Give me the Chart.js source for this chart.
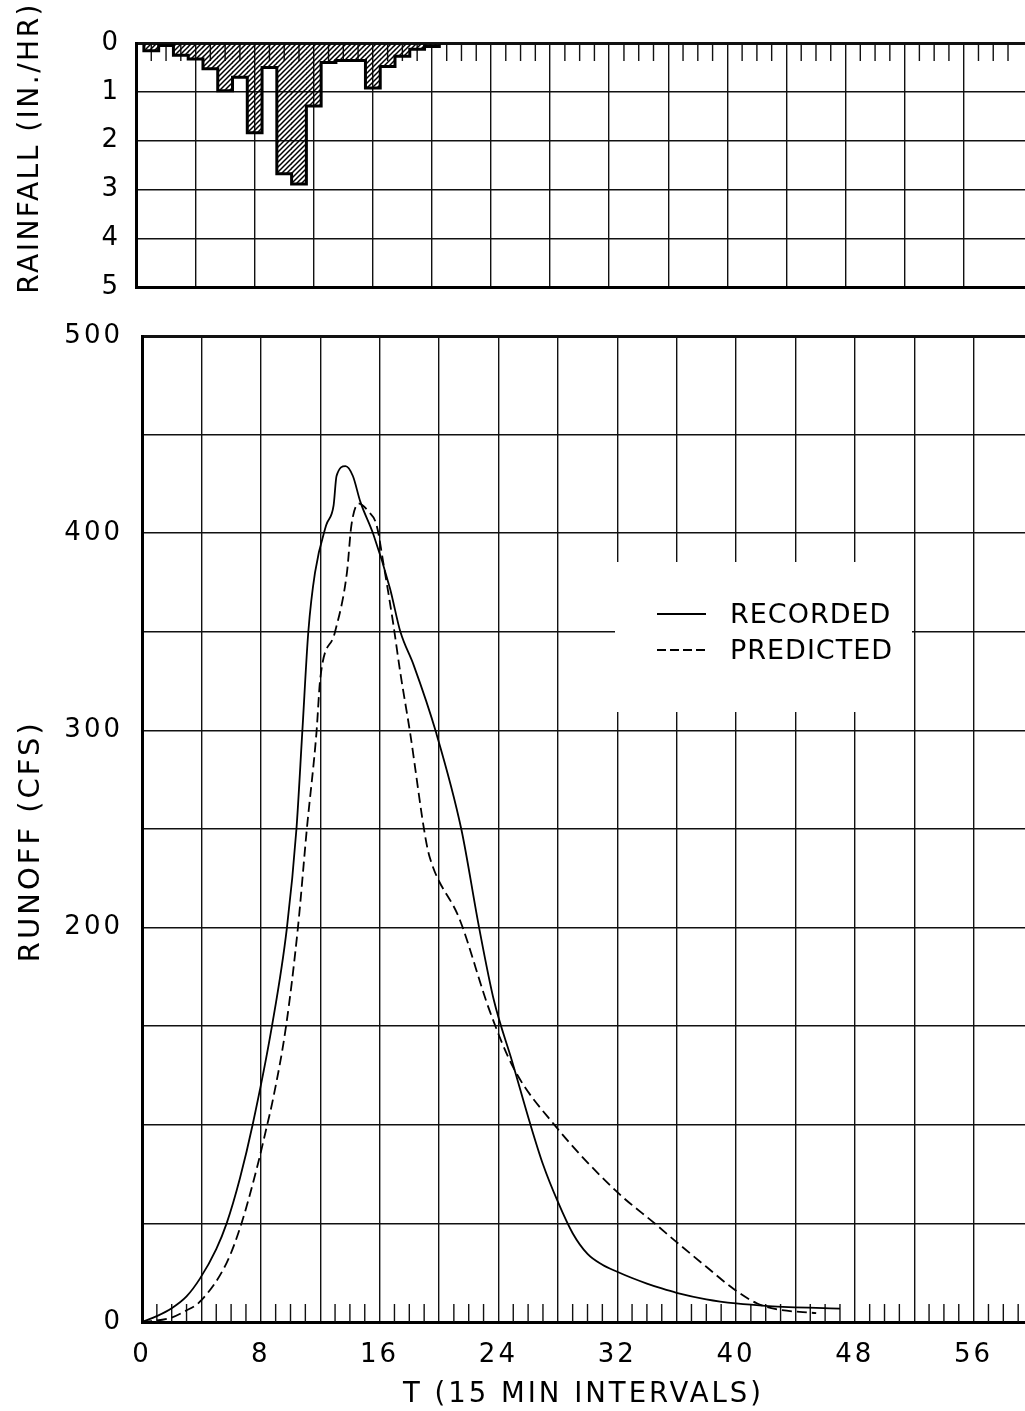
<!DOCTYPE html>
<html>
<head>
<meta charset="utf-8">
<script src="https://cdn.jsdelivr.net/npm/chart.js@4.4.1/dist/chart.umd.min.js"></script>
<style>
  html, body { margin: 0; padding: 0; background: #fff; overflow: hidden; }
  #wrap { position: relative; width: 1025px; height: 1411px; background: #fff; }
  .box { position: absolute; left: 0; width: 1025px; }
</style>
</head>
<body>
<div id="wrap">
  <div class="box" style="top:0;height:320px"><canvas id="rain"></canvas></div>
  <div class="box" style="top:300px;height:1111px"><canvas id="runoff"></canvas></div>
</div>
<script>
// ---------------- data ----------------
const rainT = [1, 2, 3, 4, 5, 6, 7, 8, 9, 10, 11, 12, 13, 14, 15, 16, 17, 18, 19, 20];
const rainRate = [0.16, 0.05, 0.25, 0.33, 0.53, 0.98, 0.70, 1.84, 0.50, 2.68, 2.89, 1.29, 0.40, 0.36, 0.36, 0.92, 0.48, 0.27, 0.13, 0.07];

const recordedT = [0, 1, 2, 3, 3.9, 5, 5.7, 6.6, 7.45, 8.75, 9.76, 10.4, 10.8, 11.2, 11.65, 12.4, 12.9, 13.1, 13.7, 14.2, 14.7, 15.6, 16.7, 17.4, 18.3, 19.8, 21.5, 22.7, 23.7, 24.93, 26.16, 27, 28, 29, 30, 31, 32, 33, 34, 35, 36, 38, 40, 42.2, 47];
const recordedQ = [0, 3, 7, 13, 22, 37, 50, 73, 100, 150, 200, 250, 300, 350, 380, 404, 414, 429, 434, 429, 416, 399, 372, 350, 333, 299, 250, 200, 163, 132, 100, 80, 61, 45, 34.5, 29, 25.5, 22.3, 19.5, 17, 14.8, 11.5, 9.4, 8.1, 6.8];

const predictedT = [0, 1.9, 2.9, 3.9, 5.7, 6.7, 7.8, 8.4, 8.85, 9.7, 10.5, 11.1, 11.75, 12, 13, 13.8, 14.1, 14.6, 15.25, 15.8, 16.25, 16.9, 17.4, 18.05, 19.1, 19.4, 21.4, 23.4, 25.04, 27.8, 31.9, 34.6, 36, 38, 39.8, 41.4, 42.7, 45.4];
const predictedQ = [0, 2, 5.5, 10.3, 30, 50, 80, 99, 114, 150, 200, 250, 299, 326, 350, 380, 404, 415, 411, 404, 385, 355, 329, 299, 245, 235, 204, 158, 128.5, 99.7, 66.6, 49.5, 40.5, 28, 17, 9.5, 6.5, 4.5];

const timeGridTicks = [0, 4, 8, 12, 16, 20, 24, 28, 32, 36, 40, 44, 48, 52, 56];
const timeLabels = [0, 8, 16, 24, 32, 40, 48, 56];
const rainTicks = [0, 1, 2, 3, 4, 5];
const runoffGridTicks = [0, 50, 100, 150, 200, 250, 300, 350, 400, 450, 500];
const runoffLabels = [0, 200, 300, 400, 500];

// ---------------- styling ----------------
const FONT = "'DejaVu Sans', 'Liberation Sans', sans-serif";
const INK = '#111';
Chart.defaults.font.family = FONT;
Chart.defaults.color = '#000';

function spacing(px) {
  return {
    id: 'spacing',
    beforeLayout(chart) { chart.ctx.letterSpacing = px; },
    beforeDraw(chart) { chart.ctx.letterSpacing = px; }
  };
}

const minorTicks = {
  id: 'minorTicks',
  beforeDatasetsDraw(chart, args, opts) {
    const { ctx, chartArea: a, scales: { x } } = chart;
    ctx.save();
    ctx.strokeStyle = INK;
    ctx.lineWidth = 1.4;
    ctx.beginPath();
    for (let t = 1; t <= Math.floor(x.max); t++) {
      if (t % 4 === 0) continue;
      const px = x.getPixelForValue(t);
      if (opts.edge === 'top') { ctx.moveTo(px, a.top); ctx.lineTo(px, a.top + opts.len); }
      else { ctx.moveTo(px, a.bottom); ctx.lineTo(px, a.bottom - opts.len); }
    }
    ctx.stroke();
    ctx.restore();
  }
};

const stepOutline = {
  id: 'stepOutline',
  afterDatasetsDraw(chart) {
    const meta = chart.getDatasetMeta(0);
    const ctx = chart.ctx;
    const els = meta.data;
    if (!els.length) return;
    ctx.save();
    ctx.strokeStyle = '#000';
    ctx.lineWidth = 3;
    ctx.lineJoin = 'miter';
    ctx.beginPath();
    let lastRight = 0, base = 0;
    els.forEach((el, i) => {
      const p = el.getProps(['x', 'y', 'width', 'base'], true);
      const left = p.x - p.width / 2, right = p.x + p.width / 2;
      base = p.base;
      if (i === 0) ctx.moveTo(left, p.base);
      ctx.lineTo(left, p.y);
      ctx.lineTo(right, p.y);
      lastRight = right;
    });
    ctx.lineTo(lastRight, base);
    ctx.stroke();
    ctx.restore();
  }
};

const boxLegend = {
  id: 'boxLegend',
  afterDatasetsDraw(chart, args, o) {
    const ctx = chart.ctx;
    ctx.save();
    ctx.fillStyle = '#fff';
    ctx.fillRect(o.box[0], o.box[1], o.box[2], o.box[3]);
    chart.data.datasets.forEach((ds, i) => {
      const y = o.rows[i];
      ctx.strokeStyle = ds.borderColor;
      ctx.lineWidth = ds.borderWidth;
      ctx.setLineDash(o.dash[i]);
      ctx.beginPath();
      ctx.moveTo(o.x0, y);
      ctx.lineTo(o.x1, y);
      ctx.stroke();
      ctx.setLineDash([]);
      ctx.fillStyle = '#000';
      ctx.font = '27px ' + FONT;
      ctx.letterSpacing = '1px';
      ctx.textBaseline = 'middle';
      ctx.textAlign = 'left';
      ctx.fillText(ds.label, o.textX, y + 2);
    });
    ctx.restore();
  }
};

function hatchPattern(ctx) {
  const c = document.createElement('canvas');
  c.width = 5; c.height = 5;
  const g = c.getContext('2d');
  g.strokeStyle = '#000';
  g.lineWidth = 1.5;
  g.beginPath();
  g.moveTo(0, 5); g.lineTo(5, 0);
  g.moveTo(-1, 1); g.lineTo(1, -1);
  g.moveTo(4, 6); g.lineTo(6, 4);
  g.stroke();
  return ctx.createPattern(c, 'repeat');
}

// ---------------- rainfall chart ----------------
const rainCanvas = document.getElementById('rain');
new Chart(rainCanvas, {
  type: 'bar',
  data: {
    datasets: [{
      label: 'RAINFALL',
      data: rainT.map((t, i) => ({ x: t, y: rainRate[i] })),
      backgroundColor: hatchPattern(rainCanvas.getContext('2d')),
      borderWidth: 0,
      barPercentage: 1,
      categoryPercentage: 1
    }]
  },
  options: {
    responsive: true,
    maintainAspectRatio: false,
    animation: false,
    layout: { padding: { top: 43, bottom: 0, left: 0, right: 0 } },
    plugins: { legend: { display: false }, tooltip: { enabled: false }, minorTicks: { edge: 'top', len: 18 } },
    scales: {
      x: {
        type: 'linear', min: 0, max: 60.15, offset: false,
        grid: { offset: false, color: INK, lineWidth: 1.4, drawTicks: false },
        border: { display: true, color: '#000', width: 3 },
        ticks: { display: false },
        afterBuildTicks: s => { s.ticks = timeGridTicks.map(v => ({ value: v })); },
        afterFit: s => { s.height = 33; }
      },
      y: {
        type: 'linear', min: 0, max: 5, reverse: true,
        grid: { color: INK, lineWidth: c => (c.tick && c.tick.value === 0) ? 3 : 1.4, drawTicks: false },
        border: { display: true, color: '#000', width: 3 },
        ticks: { padding: 16, font: { size: 26 }, color: '#000', callback: v => String(v) },
        afterBuildTicks: s => { s.ticks = rainTicks.map(v => ({ value: v })); },
        afterFit: s => { s.width = 136.5; },
        title: { display: true, text: '   RAINFALL (IN./HR)', font: { size: 28 }, color: '#000', padding: { top: 14, bottom: 0 } }
      }
    }
  },
  plugins: [spacing('2.5px'), minorTicks, stepOutline]
});

// ---------------- runoff chart ----------------
new Chart(document.getElementById('runoff'), {
  type: 'line',
  data: {
    datasets: [
      {
        label: 'RECORDED',
        data: recordedT.map((t, i) => ({ x: t, y: recordedQ[i] })),
        borderColor: '#000', borderWidth: 1.8, pointRadius: 0,
        cubicInterpolationMode: 'monotone', fill: false
      },
      {
        label: 'PREDICTED',
        data: predictedT.map((t, i) => ({ x: t, y: predictedQ[i] })),
        borderColor: '#000', borderWidth: 1.8, borderDash: [10, 5], pointRadius: 0,
        cubicInterpolationMode: 'monotone', fill: false
      }
    ]
  },
  options: {
    responsive: true,
    maintainAspectRatio: false,
    animation: false,
    layout: { padding: { top: 36, bottom: 0, left: 0, right: 0 } },
    plugins: {
      legend: { display: false }, tooltip: { enabled: false },
      minorTicks: { edge: 'bottom', len: 18 },
      boxLegend: { box: [615, 262, 297, 150], rows: [314, 350], dash: [[], [9, 4]], x0: 657, x1: 706, textX: 730 }
    },
    scales: {
      x: {
        type: 'linear', min: 0, max: 59.46,
        grid: { color: INK, lineWidth: 1.4, drawTicks: false },
        border: { display: true, color: '#000', width: 3 },
        ticks: { padding: 18, font: { size: 26 }, color: '#000', autoSkip: false, maxRotation: 0,
                 callback: v => timeLabels.includes(v) ? String(v) : '' },
        afterBuildTicks: s => { s.ticks = timeGridTicks.map(v => ({ value: v })); },
        afterFit: s => { s.height = 89; },
        title: { display: true, text: 'T (15 MIN INTERVALS)', font: { size: 27.5 }, color: '#000', padding: { top: 0, bottom: 0 } }
      },
      y: {
        type: 'linear', min: 0, max: 500,
        grid: { color: INK, lineWidth: c => (c.tick && c.tick.value === 500) ? 3 : 1.4, drawTicks: false },
        border: { display: true, color: '#000', width: 3 },
        ticks: { padding: 19, font: { size: 26 }, color: '#000', autoSkip: false,
                 callback: v => runoffLabels.includes(v) ? String(v) : '' },
        afterBuildTicks: s => { s.ticks = runoffGridTicks.map(v => ({ value: v })); },
        afterFit: s => { s.width = 142; },
        title: { display: true, text: 'RUNOFF (CFS)  ', font: { size: 29 }, color: '#000', padding: { top: 14, bottom: 0 } }
      }
    }
  },
  plugins: [spacing('3px'), minorTicks, boxLegend]
});
</script>
</body>
</html>
